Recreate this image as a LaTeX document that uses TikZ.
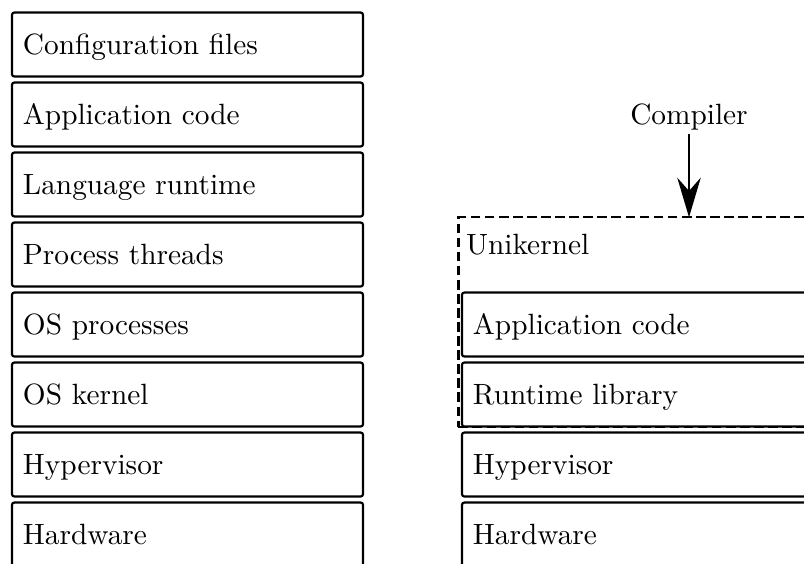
\documentclass[tikz,border=0pt]{standalone}
\usetikzlibrary{arrows.meta}
\begin{document}
\begin{tikzpicture}[x=0.341pt,y=-0.341pt,
  layerbox/.style={draw, line width=0.75pt, rounded corners=0.8pt, rectangle,
    minimum width=119.7pt, minimum height=21.8pt, text width=112.2pt,
    inner xsep=3.75pt, inner ysep=0pt, align=left,
    text height=6.83pt, text depth=0pt},
  ukbox/.style={draw, line width=0.75pt, dash pattern=on 3.3pt off 1.5pt,
    rectangle, minimum width=121.6pt, minimum height=71.5pt, inner sep=0pt},
  plain/.style={inner sep=0pt},
  arr/.style={line width=0.8pt, -{Stealth[length=13.5pt,width=8pt,inset=4.5pt]}}
]
\useasboundingbox (0,0) rectangle (804,563);
\clip (0,0) rectangle (804,563);
% left stack
\node[layerbox] (l1) at (187.5,44.5) {Configuration files};
\node[layerbox] (l2) at (187.5,114.5) {Application code};
\node[layerbox] (l3) at (187.5,184.5) {Language runtime};
\node[layerbox] (l4) at (187.5,254.5) {Process threads};
\node[layerbox] (l5) at (187.5,324.5) {OS processes};
\node[layerbox] (l6) at (187.5,394.5) {OS kernel};
\node[layerbox] (l7) at (187.5,464.5) {Hypervisor};
\node[layerbox] (l8) at (187.5,534.5) {Hardware};
% right stack
\node[layerbox] (r1) at (637.5,324.5) {Application code};
\node[layerbox] (r2) at (637.5,394.5) {Runtime library};
\node[layerbox] (r3) at (637.5,464.5) {Hypervisor};
\node[layerbox] (r4) at (637.5,534.5) {Hardware};
% unikernel
\node[ukbox] (uk) at (636.7,322.2) {};
\node[plain, anchor=base west] (ukl) at (465.5,254) {Unikernel};
% compiler
\node[plain, anchor=base] (comp) at (689,124) {Compiler};
\coordinate (ukin) at (689,217.3);
\draw[arr] ([yshift=-1.4pt]comp.south) -- (ukin);
\end{tikzpicture}
\end{document}
